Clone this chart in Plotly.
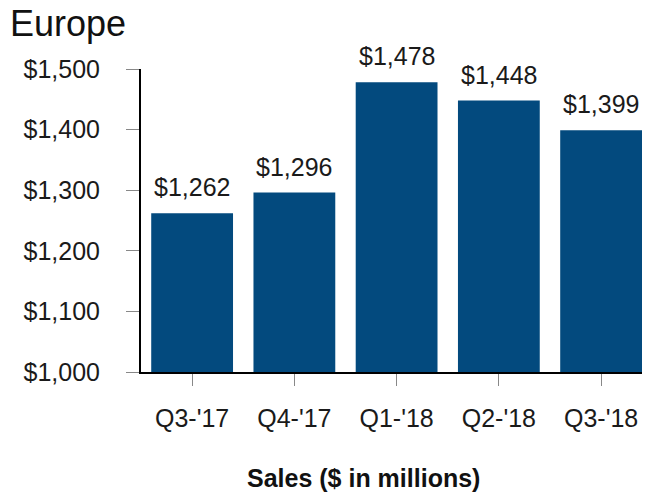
import plotly.graph_objects as go

# Quarterly sales, Europe ($ in millions)
quarters = ["Q3-'17", "Q4-'17", "Q1-'18", "Q2-'18", "Q3-'18"]
sales = [1262, 1296, 1478, 1448, 1399]
y_ticks = [1000, 1100, 1200, 1300, 1400, 1500]

BAR_COLOR = "#034a7e"
FONT = "Liberation Sans, Arial, sans-serif"
TEXT_COLOR = "#1a1a1a"

fig = go.Figure(
    go.Bar(
        x=quarters,
        y=sales,
        marker=dict(color=BAR_COLOR, line=dict(width=0)),
        width=0.8,
        hoverinfo="x+y",
    )
)

# Value labels above each bar
for q, v in zip(quarters, sales):
    fig.add_annotation(
        x=q,
        y=v,
        text=f"${v:,}",
        showarrow=False,
        xanchor="center",
        yanchor="bottom",
        yshift=10,
        font=dict(size=25, color=TEXT_COLOR, family=FONT),
    )

fig.update_layout(
    width=649,
    height=495,
    margin=dict(l=141, r=7, t=69, b=123),
    paper_bgcolor="white",
    plot_bgcolor="white",
    showlegend=False,
    font=dict(family=FONT, color=TEXT_COLOR),
    title=dict(
        text="Europe",
        font=dict(size=36, color="#111111", family=FONT),
        xref="container",
        yref="container",
        x=10 / 649,
        xanchor="left",
        y=1 - 23 / 495,
        yanchor="middle",
    ),
)

fig.update_xaxes(
    range=[-0.5, 4.4],
    showline=True,
    linecolor="black",
    linewidth=2,
    ticks="outside",
    ticklen=12,
    tickcolor="#888888",
    tickwidth=1,
    tickfont=dict(size=25, color=TEXT_COLOR),
    ticklabelstandoff=11,
    showgrid=False,
    zeroline=False,
)

fig.update_yaxes(
    range=[1000, 1500],
    tickvals=y_ticks,
    ticktext=[f"${t:,}" for t in y_ticks],
    showline=True,
    linecolor="black",
    linewidth=2,
    ticks="outside",
    ticklen=13,
    tickcolor="#888888",
    tickwidth=1,
    tickfont=dict(size=25, color=TEXT_COLOR),
    ticklabelstandoff=21,
    showgrid=False,
    zeroline=False,
)

fig.add_annotation(
    text="<b>Sales ($ in millions)</b>",
    xref="paper",
    yref="paper",
    x=(363 - 141) / 501,
    y=-(478 - 372) / 303,
    xanchor="center",
    yanchor="middle",
    showarrow=False,
    font=dict(size=25, color="#111111", family=FONT),
)

fig.write_html("out.html")
